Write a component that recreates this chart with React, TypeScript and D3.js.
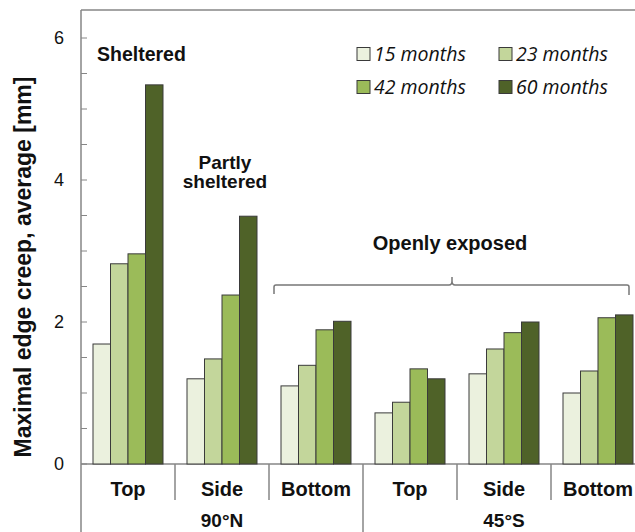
import React from "react";
import * as d3 from "d3";

const categories = ["Top", "Side", "Bottom", "Top", "Side", "Bottom"];
const groups = ["90°N", "45°S"];
const seriesNames = ["15 months", "23 months", "42 months", "60 months"];
const m15 = [1.69, 1.2, 1.1, 0.72, 1.27, 1.0];
const m23 = [2.82, 1.48, 1.39, 0.87, 1.62, 1.31];
const m42 = [2.96, 2.38, 1.89, 1.34, 1.85, 2.06];
const m60 = [5.34, 3.49, 2.01, 1.2, 2.0, 2.1];
const yTicks = [0, 2, 4, 6];
const colors = ["#ebf1de", "#c3d69b", "#9bbb59", "#4f6228"];

export default function App() {
  const W = 635, H = 532;
  const x0 = 81, x1 = 645;
  const yTop = 10;
  const y = d3.scaleLinear().domain([0, 6.4]).range([464, 464 - 6.4 * 71]);
  const xb = d3.scaleBand().domain(categories.map((_, i) => String(i))).range([x0, x1]).paddingInner(0).paddingOuter(0);
  const bw = xb.bandwidth();
  const inner = d3.scaleBand().domain(seriesNames).range([12, bw - 12]).padding(0);
  const series = [m15, m23, m42, m60];
  const minor = d3.range(0, 6.01, 0.5);
  const axisColor = "#868686";
  const y0 = y(0);
  return (
    <svg width={W} height={H} style={{ display: "block", position: "absolute", left: 0, top: 0 }} fontFamily="'Liberation Sans', Arial, sans-serif">
      <rect x={0} y={0} width={W} height={H} fill="#fff" />
      {/* frame */}
      <line x1={x0} x2={W} y1={yTop} y2={yTop} stroke={axisColor} strokeWidth={1.5} />
      <line x1={x0} x2={x0} y1={yTop} y2={H} stroke={axisColor} strokeWidth={1.5} />
      <line x1={x0} x2={W} y1={y0} y2={y0} stroke={axisColor} strokeWidth={1.5} />
      {minor.map((t) => (
        <line key={t} x1={x0} x2={x0 + 6} y1={y(t)} y2={y(t)} stroke={axisColor} strokeWidth={1} />
      ))}
      {yTicks.map((t) => (
        <text key={t} x={59} y={y(t)} dy="0.35em" textAnchor="middle" fontSize={18} fill="#111">{t}</text>
      ))}
      {/* bars */}
      {series.map((vals, s) =>
        vals.map((v, i) => (
          <rect key={s + "-" + i} x={(xb(String(i)) as number) + (inner(seriesNames[s]) as number)} y={y(v)} width={inner.bandwidth()} height={y0 - y(v)} fill={colors[s]} stroke="#3a3a3a" strokeWidth={1} />
        ))
      )}
      {/* category separators */}
      {categories.map((c, i) => {
        const bx = (xb(String(i)) as number) + bw;
        return i < categories.length - 1 ? (
          <line key={"sep" + i} x1={bx} x2={bx} y1={y0} y2={i === 2 ? H : 500} stroke={axisColor} strokeWidth={1.5} />
        ) : null;
      })}
      {categories.map((c, i) => (
        <text key={"cl" + i} x={(xb(String(i)) as number) + bw / 2} y={496} textAnchor="middle" fontSize={20} fontWeight="bold" fill="#111">{c}</text>
      ))}
      {groups.map((g, gi) => (
        <text key={g} x={(xb(String(gi * 3)) as number) + bw * 1.5} y={527} textAnchor="middle" fontSize={19} fontWeight="bold" fill="#111">{g}</text>
      ))}
      {/* y label */}
      <text transform={`translate(31,267) rotate(-90)`} textAnchor="middle" fontSize={23} fontWeight="bold" fill="#111">Maximal edge creep, average [mm]</text>
      {/* annotations */}
      <text x={97} y={61} fontSize={19.5} fontWeight="bold" fill="#111">Sheltered</text>
      <text x={225} y={169} textAnchor="middle" fontSize={19} fontWeight="bold" fill="#111">Partly</text>
      <text x={225} y={188} textAnchor="middle" fontSize={19} fontWeight="bold" fill="#111">sheltered</text>
      <text x={450} y={250} textAnchor="middle" fontSize={20} fontWeight="bold" fill="#111">Openly exposed</text>
      {/* brace */}
      <path d={`M274,294 L274,287 Q274,285 276,285 L449,285 Q452,285 452,281 L452,277 L452,281 Q452,285 455,285 L627,285 Q629,285 629,287 L629,295`} fill="none" stroke="#777" strokeWidth={1.5} />
      {/* legend */}
      {seriesNames.map((n, i) => {
        const lx = i % 2 === 0 ? 357 : 499;
        const ly = i < 2 ? 54 : 87;
        return (
          <g key={n}>
            <rect x={lx} y={ly - 6.5} width={13} height={13} fill={colors[i]} stroke="#3a3a3a" strokeWidth={1} />
            <text x={lx + 17} y={ly} dy="0.35em" fontSize={19.5} fontStyle="italic" fill="#111" fontFamily="'Open Sans', sans-serif">{n}</text>
          </g>
        );
      })}
    </svg>
  );
}
